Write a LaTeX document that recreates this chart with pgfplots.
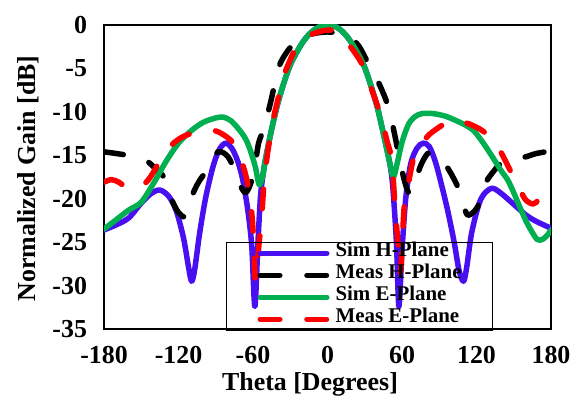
\documentclass[border=0pt]{standalone}
\usepackage{fontspec}
\setmainfont{Liberation Serif}
\usepackage{pgfplots}
\pgfplotsset{compat=1.18}
\definecolor{simH}{RGB}{72,16,240}
\definecolor{simE}{RGB}{0,176,80}
\definecolor{measE}{RGB}{255,0,0}
\pgfplotsset{
  layers/legendbelow/.define layer set={axis background,axis grid,axis ticks,axis lines,axis tick labels,axis descriptions,main,axis foreground}{},
}

\pgfplotstableread{
x y
-180 -23.6
-170 -23.0
-160 -22.2
-150 -20.5
-142 -19.4
-135 -19.0
-128 -19.7
-122 -21.3
-116 -24.5
-112 -27.8
-109.5 -29.5
-107 -28.2
-103 -24
-98 -19.8
-92 -16.2
-87 -14.3
-82 -13.6
-77 -14.2
-72 -15.8
-68 -18
-64 -21.5
-61 -25.5
-58.5 -32.4
-56 -25
-54 -19.8
-52 -17.3
-50 -15.5
-45 -12
-40 -9
-35 -6.6
-30 -4.6
-25 -3.2
-20 -2.0
-15 -1.1
-10 -0.5
-5 -0.1
0 0
5 -0.1
10 -0.5
15 -1.2
20 -2.2
25 -3.4
30 -4.9
35 -7.0
40 -9.4
45 -12.5
50 -15.8
52.5 -18.5
55.5 -25
57.5 -32.4
60 -26
63 -20
67 -16
72 -14.2
77 -13.6
82 -14
87 -15.8
92 -18.5
97 -21.5
102 -25
106 -28.3
109.5 -29.5
112 -28
116 -24
122 -20.6
127 -19.3
133 -18.8
140 -19.4
152 -20.9
160 -21.9
168 -22.6
180 -23.4
}\simHtab

\pgfplotstableread{
x y
-180 -14.6
-170 -14.8
-161 -15.0
-150 -15.3
-145 -15.7
-138 -16.6
-131 -17.7
-125.5 -20.1
-120 -21.6
-115 -22.1
-112 -21.3
-108 -19.3
-103 -17.9
-97 -16.7
-92 -15.2
-88 -14.6
-84 -14.7
-80 -15.2
-76 -16.3
-70.5 -18.4
-66 -19.3
-62 -18.3
-58.5 -16.3
-55.5 -13.6
-51 -11.8
-46 -9
-42 -6.5
-38 -4.4
-30 -2.6
-20 -1.4
-12 -1.0
-5 -0.85
0 -0.8
5 -0.85
12 -1.0
20 -1.6
26 -2.6
32 -4.2
40 -6.3
47 -8.6
51 -10.6
54.5 -12.9
58.5 -15.8
62.5 -18.2
66 -19.4
70 -18.3
75 -16.2
80 -14.9
84 -14.6
90 -15.3
96 -16.3
101 -17.5
106 -19.0
110 -21.0
113 -21.9
117 -21.6
121 -20.9
125 -19.3
128 -18.0
134 -16.8
140 -15.9
150 -15.4
159 -15.2
168 -14.8
180 -14.5
}\measHtab

\pgfplotstableread{
x y
-180 -23.5
-170 -22.4
-160 -21.3
-150 -20.4
-140 -18.2
-130 -15.7
-120 -13.6
-110 -12.2
-100 -11.2
-90 -10.7
-84 -10.6
-78 -11.0
-72 -11.9
-66 -13.1
-62 -14.5
-58 -16.4
-55 -18.4
-52 -17.3
-50 -15.5
-45 -12
-40 -9
-35 -6.6
-30 -4.6
-25 -3.2
-20 -2.0
-15 -1.1
-10 -0.5
-5 -0.1
0 0
5 -0.1
10 -0.5
15 -1.2
20 -2.2
25 -3.4
30 -4.9
35 -7.0
40 -9.4
45 -12.5
50 -15.8
53 -17.5
56 -16
60 -13.5
65 -11.5
70 -10.6
76 -10.2
85 -10.2
95 -10.5
105 -11.1
112 -11.6
118 -12.2
125 -13.5
132 -15
140 -16.8
145 -17.8
150 -19.3
155 -21
160 -22.6
165 -23.9
169 -24.7
173 -24.7
177 -24.2
180 -23.6
}\simEtab

\pgfplotstableread{
x y
-180 -18.1
-174 -17.8
-168 -18.1
-163 -18.6
-155 -18.9
-146 -18.1
-140 -16.9
-136 -15.9
-130 -14.6
-124 -13.6
-117 -12.9
-110 -12.5
-100 -12.1
-92 -12.1
-88 -12.3
-82 -12.8
-76 -13.6
-70 -15.4
-65 -17.8
-61 -21.7
-59.5 -25
-58.2 -29.3
-57 -28
-55 -25
-53 -22
-51 -18
-48 -14.5
-43.7 -10.9
-40 -8.6
-35.6 -6
-30 -4
-24.8 -2.5
-18 -1.5
-11.4 -1.0
-5 -0.7
0 -0.6
5 -0.6
10 -1.0
18 -2.4
24 -3.6
28.8 -4.8
35 -7.2
42.3 -10.2
48 -13.4
51.7 -15.5
54.4 -20.9
57 -25.5
58.8 -28.5
60.5 -24
62 -20.5
64 -19.2
69 -15.5
74.5 -14
78 -13.3
82 -12.6
90.6 -11.7
98 -11.1
104 -10.9
108 -11.1
116 -11.5
126 -12.3
137 -14
147 -16.7
155 -19
160 -20.2
165.7 -20.6
170 -20.1
176.5 -18.6
180 -18.0
}\measEtab

\begin{document}
\begin{tikzpicture}
\begin{axis}[
  set layers=legendbelow,
  scale only axis,
  width=447bp, height=304bp,
  xmin=-180, xmax=180, ymin=-35, ymax=0,
  xtick={-180,-120,...,180},
  ytick={-35,-30,...,0},
  major tick length=0pt,
  axis line style={line width=1.2bp},
  /pgf/number format/assume math mode=true,
  tick label style={font=\fontsize{26}{28}\selectfont\bfseries},
  xticklabel style={yshift=-14bp},
  yticklabel style={xshift=-13.5bp},
  label style={font=\fontsize{26}{28}\selectfont\bfseries},
  xlabel={Theta [Degrees]},
  xlabel style={at={(axis description cs:0.5,0)}, anchor=base, yshift=-61bp, xshift=-17.5bp, inner sep=0pt},
  legend cell align=left,
  legend style={at={(0.273,0.287)}, anchor=north west, draw=black, line width=1bp, fill=none,
    inner xsep=31bp, inner ysep=0pt, column sep=6bp,
    font=\fontsize{21}{22}\selectfont\bfseries,
    nodes={inner sep=0pt, text height=14.5bp, text depth=7.5bp}},
  legend image code/.code={\draw[#1, line cap=round] (0bp,0bp) -- (66.5bp,0bp);},
  every axis plot/.append style={line width=5.5bp, line cap=round, line join=round},
]
\coordinate (SW) at (rel axis cs:0,0);
\coordinate (NE) at (rel axis cs:1,1);
\coordinate (YL) at (rel axis cs:0,0.5);
\addplot[simH, smooth, tension=0.5] table {\simHtab};
\addlegendentry{Sim H-Plane}
\addplot[black, smooth, tension=0.5, dash pattern=on 19.5bp off 27.2bp] table {\measHtab};
\addlegendentry{Meas H-Plane}
\addplot[simE, smooth, tension=0.5] table {\simEtab};
\addlegendentry{Sim E-Plane}
\addplot[measE, smooth, tension=0.5, dash pattern=on 19.5bp off 27.2bp] table {\measEtab};
\addlegendentry{Meas E-Plane}
\end{axis}
\node[rotate=90, anchor=south, inner sep=0pt, font=\fontsize{26}{28}\selectfont\bfseries] at ([xshift=-65bp,yshift=-1.5bp]YL) {Normalized Gain [dB]};
\pgfresetboundingbox
\path[use as bounding box] ([shift={(-104bp,-67bp)}]SW) rectangle ([shift={(22bp,25bp)}]NE);
\end{tikzpicture}
\end{document}
